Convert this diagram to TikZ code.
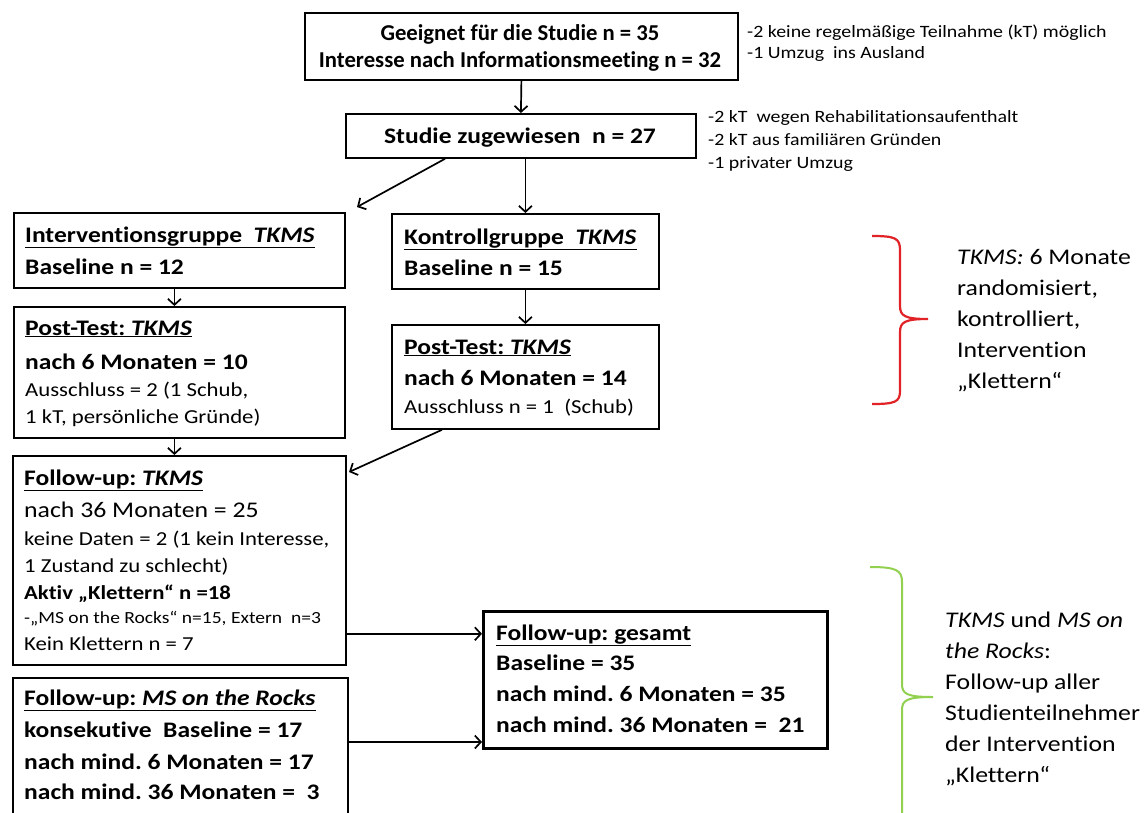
\documentclass[tikz,border=0pt]{standalone}
\usepackage{fontspec}
\setmainfont{Carlito}[FakeStretch=1.15, Ligatures=NoCommon]
\newfontfamily\plainfam{Carlito}[Ligatures=NoCommon]
\usetikzlibrary{arrows.meta}
\frenchspacing
\newcommand\fsA{\fontsize{22.2}{26}\selectfont}
\newcommand\fsB{\fontsize{19.8}{23}\selectfont}
\newcommand\fsC{\fontsize{17.3}{20}\selectfont}
\newcommand\fsD{\fontsize{17}{20}\selectfont}
\newcommand\fsE{\fontsize{22.4}{26}\selectfont}
\newcommand\fsT{\plainfam\fontsize{22.7}{26}\selectfont}
\begin{document}
\begin{tikzpicture}[x=1pt,y=-1pt,
  box/.style={draw, line width=1.8pt, inner sep=0pt, anchor=north west},
  txt/.style={anchor=base west, inner sep=0pt},
  ctxt/.style={anchor=base, inner sep=0pt},
  arr/.style={line width=1.7pt, -{Straight Barb[length=6pt,width=13pt]}},
  bracered/.style={line width=2.2pt, draw={rgb,255:red,225;green,35;blue,40}},
  bracegreen/.style={line width=2pt, draw={rgb,255:red,146;green,208;blue,80}}]
\path[use as bounding box] (0,0) rectangle (1147,812);
\clip (0,0) rectangle (1147,812);
% boxes
\node[box, minimum width=433pt, minimum height=67pt] (b1) at (304,12) {};
\node[box, minimum width=350pt, minimum height=44pt] (b2) at (345,113) {};
\node[box, minimum width=331pt, minimum height=75pt] (ig) at (13,212) {};
\node[box, minimum width=331pt, minimum height=131pt] (pl) at (13,306) {};
\node[box, minimum width=267pt, minimum height=75pt] (kg) at (391,213) {};
\node[box, minimum width=267pt, minimum height=104pt] (pr) at (391,324) {};
\node[box, minimum width=333pt, minimum height=209pt] (ft) at (12,455) {};
\node[box, minimum width=335pt, minimum height=160pt] (fm) at (12,677) {};
\node[box, line width=2.8pt, minimum width=344pt, minimum height=137pt] (ge) at (482,610) {};
% texts box 1,2
\node[ctxt, font=\fsT\bfseries] (t1a) at (520,40) {Geeignet für die Studie n = 35};
\node[ctxt, font=\fsT\bfseries] (t1b) at (520,67) {Interesse nach Informationsmeeting n = 32};
\node[ctxt, font=\fsA\bfseries] (t2) at (520,143) {Studie zugewiesen\ \ n = 27};
\node[txt, font=\fsC] (s1a) at (747,37) {-2 keine regelmäßige Teilnahme (kT) möglich};
\node[txt, font=\fsC] (s1b) at (747,58) {-1 Umzug\ \ ins Ausland};
\node[txt, font=\fsC] (s2a) at (708,122) {-2 kT\ \ wegen Rehabilitationsaufenthalt};
\node[txt, font=\fsC] (s2b) at (708,145) {-2 kT aus familiären Gründen};
\node[txt, font=\fsC] (s2c) at (708,168) {-1 privater Umzug};
% Interventionsgruppe
\node[txt, font=\fsA\bfseries] (ig1) at (25,242) {\underline{Interventionsgruppe\ \ \textit{TKMS}}};
\node[txt, font=\fsA\bfseries] (ig2) at (25,274) {Baseline n = 12};
\node[txt, font=\fsA\bfseries] (pl1) at (25,335) {\underline{Post-Test:\ \textit{TKMS}}};
\node[txt, font=\fsA\bfseries] (pl2) at (25,369) {nach 6 Monaten = 10};
\node[txt, font=\fsB] (pl3) at (25,396) {Ausschluss = 2 (1 Schub,};
\node[txt, font=\fsB] (pl4) at (25,423) {1 kT, persönliche Gründe)};
% Kontrollgruppe
\node[txt, font=\fsA\bfseries] (kg1) at (404,244) {\underline{Kontrollgruppe\ \ \textit{TKMS}}};
\node[txt, font=\fsA\bfseries] (kg2) at (404,275) {Baseline n = 15};
\node[txt, font=\fsA\bfseries] (pr1) at (404,354) {\underline{Post-Test:\ \textit{TKMS}}};
\node[txt, font=\fsA\bfseries] (pr2) at (404,385) {nach 6 Monaten = 14};
\node[txt, font=\fsB] (pr3) at (404,413) {Ausschluss n = 1\ \ (Schub)};
% Follow-up TKMS
\node[txt, font=\fsA\bfseries] (ft1) at (24,485) {\underline{Follow-up:\ \textit{TKMS}}};
\node[txt, font=\fsE] (ft2) at (24,517) {nach 36 Monaten = 25};
\node[txt, font=\fsB] (ft3) at (24,545) {keine Daten = 2 (1 kein Interesse,};
\node[txt, font=\fsB] (ft4) at (24,572) {1 Zustand zu schlecht)};
\node[txt, font=\fsB\bfseries] (ft5) at (24,599) {Aktiv „Klettern“ n =18};
\node[txt, font=\fsD] (ft6) at (24,623) {-„MS on the Rocks“ n=15, Extern\ \ n=3};
\node[txt, font=\fsB] (ft7) at (24,650) {Kein Klettern n = 7};
% Follow-up MS
\node[txt, font=\fsA\bfseries] (fm1) at (24,705) {\underline{Follow-up: \textit{MS on the Rocks}}};
\node[txt, font=\fsA\bfseries] (fm2) at (24,737) {konsekutive\ \ Baseline = 17};
\node[txt, font=\fsA\bfseries] (fm3) at (24,769) {nach mind. 6 Monaten = 17};
\node[txt, font=\fsA\bfseries] (fm4) at (24,799) {nach mind. 36 Monaten =\ \ 3};
% gesamt
\node[txt, font=\fsA\bfseries] (ge1) at (496,640) {\underline{Follow-up:\ gesamt}};
\node[txt, font=\fsA\bfseries] (ge2) at (496,670) {Baseline = 35};
\node[txt, font=\fsA\bfseries] (ge3) at (496,701) {nach mind. 6 Monaten = 35};
\node[txt, font=\fsA\bfseries] (ge4) at (496,732) {nach mind. 36 Monaten =\ \ 21};
% brace texts
\node[txt, font=\fsE] (r1) at (957,264) {\textit{TKMS:} 6 Monate};
\node[txt, font=\fsE] (r2) at (957,295) {randomisiert,};
\node[txt, font=\fsE] (r3) at (957,326) {kontrolliert,};
\node[txt, font=\fsE] (r4) at (957,357) {Intervention};
\node[txt, font=\fsE] (r5) at (957,388) {„Klettern“};
\node[txt, font=\fsE] (g1) at (945,627) {\textit{TKMS} und \textit{MS on}};
\node[txt, font=\fsE] (g2) at (945,658) {\textit{the Rocks}:};
\node[txt, font=\fsE] (g3) at (945,689) {Follow-up aller};
\node[txt, font=\fsE] (g4) at (945,720) {Studienteilnehmer};
\node[txt, font=\fsE] (g5) at (945,751) {der Intervention};
\node[txt, font=\fsE] (g6) at (945,782) {„Klettern“};
% braces
\draw[bracered] (872,236) .. controls (895,236) and (900,238) .. (900,250) -- (900,306)
  .. controls (900,316) and (905,319) .. (928,319)
  .. controls (905,319) and (900,322) .. (900,332) -- (900,391)
  .. controls (900,402) and (895,404) .. (872,404);
\draw[bracegreen] (870,567) .. controls (896,567) and (902,570) .. (902,582) -- (902,684)
  .. controls (902,694) and (907,697) .. (933,697)
  .. controls (907,697) and (902,700) .. (902,710) -- (902,830);
% connectors
\coordinate (igtip) at (357,207);
\coordinate (fttip) at (349,472);
\draw[arr] (b1.south) -- (b2.north);
\draw[arr] ([xshift=100pt]b2.south west) -- (igtip);
\draw[arr] (b2.south -| kg.north) -- (kg.north);
\draw[arr] ([xshift=-5pt]ig.south) -- ([xshift=-5pt]pl.north);
\draw[arr] (kg.south) -- (pr.north);
\draw[arr] ([xshift=51pt]pr.south west) -- (fttip);
\draw[arr] ([xshift=-5pt]pl.south) -- ([xshift=-5pt]ft.north);
\draw[arr] ([yshift=32pt]ft.south east) coordinate (a1) -- (a1 -| ge.west);
\draw[arr] ([yshift=-65pt]fm.north east) coordinate (a2) -- (a2 -| ge.west);
\end{tikzpicture}
\end{document}
